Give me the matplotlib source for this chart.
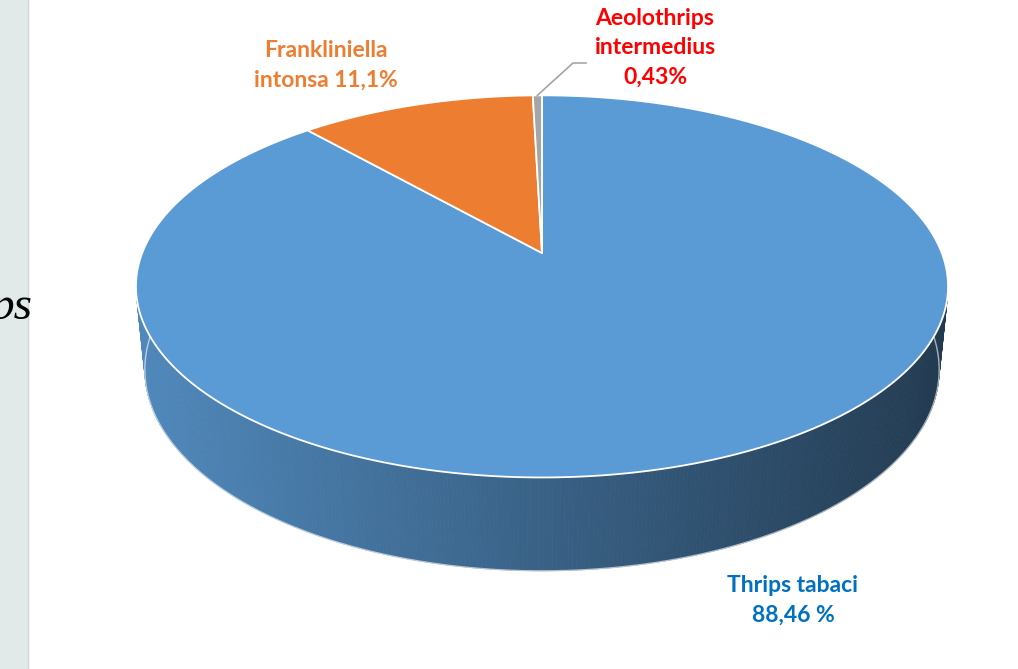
import numpy as np
import matplotlib.pyplot as plt
from matplotlib.patches import Polygon, Rectangle
from matplotlib.colors import to_rgb

# =========================
# DATA
# =========================

species = ["Thrips tabaci", "Frankliniella intonsa", "Aeolothrips intermedius"]
shares = [88.46, 11.1, 0.43]
colors = ["#5B9BD5", "#ED7D31", "#A5A5A5"]
label_texts = ["Thrips tabaci\n88,46 %", "Frankliniella\nintonsa 11,1%", "Aeolothrips\nintermedius\n0,43%"]
label_colors = ["#0070C0", "#ED7D31", "#FF0000"]

# =========================
# 3D PIE PROJECTION
# =========================

phi = np.radians(27.6)
cph, sph = np.cos(phi), np.sin(phi)
D = 5.07
k = 2027
x0, y0 = 542, 253
h = 0.237


def proj(X, Y, Z):
    vx = X
    vy = Y + D * cph
    vz = Z - D * sph
    depth = vy * cph - vz * sph
    up = vy * sph + vz * cph
    return x0 + k * vx / depth, y0 - k * up / depth


fig = plt.figure(figsize=(10.18, 6.69), dpi=100)
ax = fig.add_axes([0, 0, 1, 1])
ax.set_xlim(0, 1018)
ax.set_ylim(669, 0)
ax.axis("off")

# left slide panel
ax.add_patch(Rectangle((0, 0), 28, 669, color="#E1E9E9", zorder=0))
ax.plot([28, 28], [0, 669], color="#D6D6D6", lw=1, zorder=1)

fracs = np.array(shares) / sum(shares)
bounds = np.concatenate([[0], np.cumsum(fracs)]) * 2 * np.pi

# side wall (front part only), shaded left to right
cam = np.array([0, -D * cph, D * sph])
for i in range(len(shares)):
    th = np.linspace(bounds[i], bounds[i + 1], max(int(720 * fracs[i]), 2) + 1)
    base = np.array(to_rgb(colors[i]))
    for a, b in zip(th[:-1], th[1:]):
        m = 0.5 * (a + b)
        n = np.array([np.sin(m), np.cos(m), 0])
        p = np.array([np.sin(m), np.cos(m), -h / 2])
        if np.dot(n, cam - p) <= 0:
            continue
        pts = [proj(np.sin(a), np.cos(a), 0), proj(np.sin(b), np.cos(b), 0),
               proj(np.sin(b), np.cos(b), -h), proj(np.sin(a), np.cos(a), -h)]
        xm = (pts[0][0] - 135) / (949 - 135)
        f = 0.88 - 0.50 * np.clip(xm, 0, 1)
        ax.add_patch(Polygon(pts, closed=True, facecolor=base * f,
                             edgecolor=base * f, lw=0.6, zorder=2))

# bottom white rim
tb = np.linspace(np.pi / 2, 3 * np.pi / 2, 200)
bx, by = proj(np.sin(tb), np.cos(tb), -h)
ax.plot(bx, by, color="white", lw=1, alpha=0.6, zorder=3)

# top faces
for i in range(len(shares)):
    th = np.linspace(bounds[i], bounds[i + 1], max(int(720 * fracs[i]), 2) + 1)
    rx, ry = proj(np.sin(th), np.cos(th), 0)
    pts = [(x0, y0)] + list(zip(rx, ry))
    ax.add_patch(Polygon(pts, closed=True, facecolor=colors[i],
                         edgecolor="white", lw=1.3, joinstyle="round", zorder=4))

# leader line for the small slice
mid = 0.5 * (bounds[2] + bounds[3])
lx, ly = proj(np.sin(mid), np.cos(mid), 0)
ax.plot([lx, 573, 586], [ly, 63, 63], color="#A5A5A5", lw=1.2, zorder=5)

# =========================
# LABELS
# =========================

label_pos = [(793, 600), (326, 65), (655, 48)]
for txt, col, (tx, ty) in zip(label_texts, label_colors, label_pos):
    ax.text(tx, ty, txt, color=col, fontsize=16.5, fontweight="bold",
            family="Lato", ha="center", va="center", linespacing=1.5, zorder=6)

# partial slide title at the left edge
ax.text(33, 319, "ps", fontsize=34, style="italic", family="Liberation Serif",
        ha="right", va="baseline", color="black", zorder=6)

plt.savefig("out.png", dpi=100)
